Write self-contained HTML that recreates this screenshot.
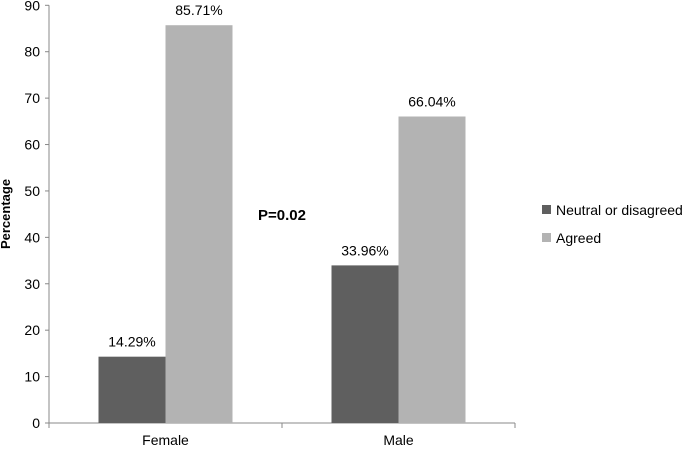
<!DOCTYPE html>
<html><head><meta charset="utf-8"><style>
body{margin:0;background:#fff;font-family:"Liberation Sans",sans-serif}
svg text{font-family:"Liberation Sans",sans-serif}
</style></head><body>
<svg id="c" width="685" height="449"></svg>
<script>
const categories=["Female","Male"];
const neutral=[14.29,33.96];
const agreed=[85.71,66.04];
const yTicks=[0,10,20,30,40,50,60,70,80,90];
const seriesNames=["Neutral or disagreed","Agreed"];
const colors=["#5f5f5f","#b3b3b3"];
const ns="http://www.w3.org/2000/svg";
const svg=document.getElementById("c");
const x0=49,x1=515,yb=423,yt=5.3,ymax=90;
const y=v=>yb-(v/ymax)*(yb-yt);
const cw=(x1-x0)/categories.length;
const bw=67;
function mk(t,a,txt){const e=document.createElementNS(ns,t);for(const k in a)e.setAttribute(k,a[k]);if(txt!==undefined)e.textContent=txt;svg.appendChild(e);return e;}
let e;
e=mk("line",{x1:x0,y1:yt,x2:x0,y2:yb,stroke:"#888"});


e=mk("line",{x1:x0-4,y1:yb,x2:x1,y2:yb,stroke:"#888"});


yTicks.forEach(t=>{
 mk("line",{x1:x0-4,y1:y(t),x2:x0,y2:y(t),stroke:"#888"});
 e=mk("text",{x:x0-9,y:y(t)+5,"text-anchor":"end","font-size":"14",fill:"#000"},t);
 
 
});
for(let i=0;i<=categories.length;i++){mk("line",{x1:x0+i*cw,y1:yb,x2:x0+i*cw,y2:yb+5,stroke:"#888"});}
categories.forEach((c,i)=>{
 const cx=x0+cw*(i+0.5);
 [neutral,agreed].forEach((s,j)=>{
  const bx=cx-bw+j*bw;
  e=mk("rect",{x:bx,y:y(s[i]),width:bw,height:yb-y(s[i]),fill:colors[j]});
  
  
  e=mk("text",{x:bx+bw/2,y:y(s[i])-10,"text-anchor":"middle","font-size":"14"},s[i].toFixed(2)+"%");
  
  
 });
 e=mk("text",{x:cx,y:yb+22,"text-anchor":"middle","font-size":"14"},c);
 
 
});
e=mk("text",{x:0,y:0,"font-size":"13","font-weight":"bold","text-anchor":"middle",transform:"translate(10,214) rotate(-90)"},"Percentage");


e=mk("text",{x:282,y:220,"text-anchor":"middle","font-size":"15","font-weight":"bold"},"P=0.02");


seriesNames.forEach((n,j)=>{
 const ly=210+j*28;
 e=mk("rect",{x:542,y:ly-5,width:9,height:9,fill:colors[j]});
 
 
 e=mk("text",{x:556,y:ly+5,"font-size":"14"},n);
 
 
});
</script>
</body></html>
